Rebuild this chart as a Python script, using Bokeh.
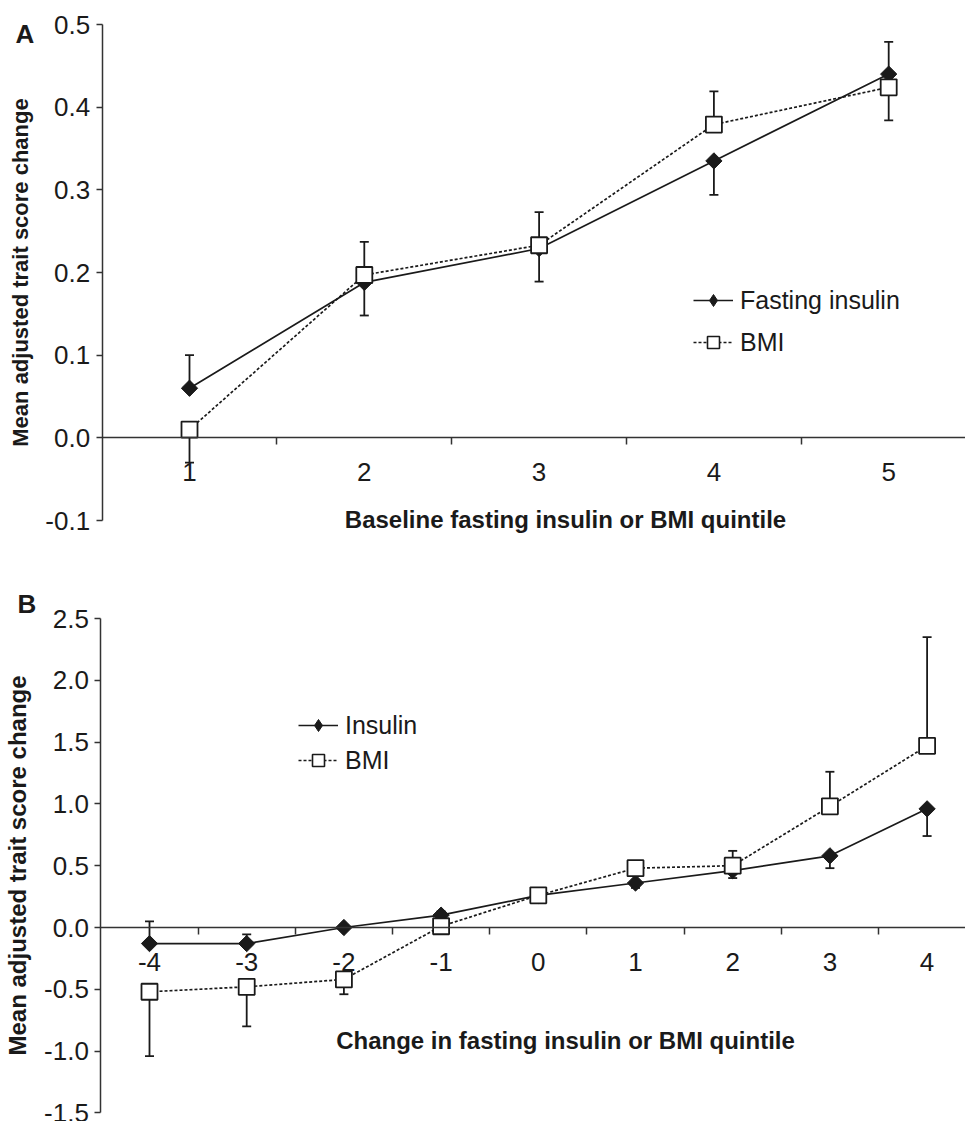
import numpy as np
from bokeh.plotting import figure
from bokeh.models import (Range1d, LinearAxis, FixedTicker, PrintfTickFormatter,
                          Legend, LegendItem, Label)
from bokeh.layouts import column
from bokeh.embed import file_html
from bokeh.resources import INLINE

FONT = "Liberation Sans"
INK = "#1a1a1a"
AXC = "#333333"

# ---------------- data: panel A ----------------
quintiles_a = [1, 2, 3, 4, 5]
x_labels_a = ["1", "2", "3", "4", "5"]
insulin_a = [0.060, 0.188, 0.229, 0.335, 0.440]
insulin_a_err = [0.040, 0.040, 0.040, 0.041, 0.039]
bmi_a = [0.010, 0.197, 0.233, 0.379, 0.424]
bmi_a_err = [0.040, 0.040, 0.040, 0.040, 0.040]
y_ticks_a = [-0.1, 0.0, 0.1, 0.2, 0.3, 0.4, 0.5]

# ---------------- data: panel B ----------------
change_b = [-4, -3, -2, -1, 0, 1, 2, 3, 4]
x_labels_b = ["-4", "-3", "-2", "-1", "0", "1", "2", "3", "4"]
insulin_b = [-0.13, -0.13, 0.00, 0.10, 0.26, 0.36, 0.46, 0.58, 0.96]
insulin_b_err = [0.18, 0.075, 0.02, 0.03, 0.03, 0.04, 0.06, 0.10, 0.22]
bmi_b = [-0.52, -0.48, -0.42, 0.01, 0.26, 0.48, 0.50, 0.98, 1.47]
bmi_b_err = [0.52, 0.32, 0.12, 0.03, 0.03, 0.04, 0.12, 0.28, 0.88]
y_ticks_b = [-1.5, -1.0, -0.5, 0.0, 0.5, 1.0, 1.5, 2.0, 2.5]

W = 965


def make_panel(cats, xlabels, ins, ins_err, bmi, bmi_err, yticks, height,
               cal, ylab_size, letter, letter_px, title, title_px,
               ins_name, leg_loc, leg_spacing):
    # cal = (px of first category, px per x unit, py of top y tick, px per y unit)
    cx0, pxu, ty0, pyu = cal
    xs = cats[0] - cx0 / pxu
    xe = cats[0] + (W - cx0) / pxu
    ye = yticks[-1] + ty0 / pyu
    ys = ye - height / pyu

    def dx(px):
        return xs + px / pxu

    def dy(py):
        return ye - py / pyu

    p = figure(width=W, height=height, x_range=Range1d(xs, xe), y_range=Range1d(ys, ye),
               output_backend="svg", toolbar_location=None,
               x_axis_location=None, y_axis_location=None, min_border=0)
    p.outline_line_color = None
    p.grid.visible = False
    p.background_fill_color = "white"
    p.border_fill_color = "white"

    x_left = cats[0] - 0.5
    # y axis at the left edge of the first category slot
    ya = LinearAxis(fixed_location=x_left, bounds=(yticks[0], yticks[-1]),
                    ticker=FixedTicker(ticks=yticks),
                    formatter=PrintfTickFormatter(format="%.1f"))
    ya.major_tick_out = 6
    ya.major_tick_in = 0
    ya.minor_tick_out = 0
    ya.minor_tick_in = 0
    ya.axis_line_width = 1.5
    ya.axis_line_color = AXC
    ya.major_tick_line_width = 1.5
    ya.major_tick_line_color = AXC
    ya.major_label_text_font = FONT
    ya.major_label_text_font_size = "26px"
    ya.major_label_text_color = INK
    ya.major_label_standoff = 6
    ya.axis_label = "Mean adjusted trait score change"
    ya.axis_label_text_font = FONT
    ya.axis_label_text_font_style = "bold"
    ya.axis_label_text_font_size = ylab_size
    ya.axis_label_text_color = INK
    ya.axis_label_standoff = 10
    p.add_layout(ya, "left")

    # x axis crossing at y = 0, ticks on slot boundaries
    bounds = [c + 0.5 for c in cats[:-1]]
    xa = LinearAxis(fixed_location=0, bounds=(x_left, xe),
                    ticker=FixedTicker(ticks=cats, minor_ticks=bounds),
                    major_label_overrides={c: l for c, l in zip(cats, xlabels)})
    xa.major_tick_out = 0
    xa.major_tick_in = 0
    xa.minor_tick_out = 7
    xa.minor_tick_in = 0
    xa.minor_tick_line_width = 1.5
    xa.minor_tick_line_color = AXC
    xa.axis_line_width = 1.5
    xa.axis_line_color = AXC
    xa.major_label_text_font = FONT
    xa.major_label_text_font_size = "26px"
    xa.major_label_text_color = INK
    xa.major_label_standoff = 18
    p.add_layout(xa, "below")

    # series lines
    l_ins = p.line(cats, ins, line_color=INK, line_width=1.7)
    l_bmi = p.line(cats, bmi, line_color=INK, line_width=1.7, line_dash="3 2")

    # one-sided error bars: upward for the higher series, downward for the lower
    def bars(y, err, other, higher_or_equal):
        ends = []
        for yi, ei, oi in zip(y, err, other):
            up = yi >= oi if higher_or_equal else yi > oi
            ends.append(yi + ei if up else yi - ei)
        p.segment(x0=cats, y0=y, x1=cats, y1=ends, line_color=INK, line_width=1.8)
        p.scatter(cats, ends, marker="dash", size=9, line_color=INK, line_width=1.8)

    bars(ins, ins_err, bmi, True)
    bars(bmi, bmi_err, ins, False)

    p.scatter(cats, ins, marker="square", angle=np.pi / 4, size=11.5,
              fill_color=INK, line_color=INK, line_width=1)
    p.scatter(cats, bmi, marker="square", size=16, fill_color="white",
              line_color=INK, line_width=1.8)

    # legend-only marker renderers (no visible points)
    nan = [float("nan")]
    k_ins = p.scatter(nan, nan, marker="diamond", size=12, fill_color=INK,
                      line_color=INK, line_width=1)
    k_bmi = p.scatter(nan, nan, marker="square", size=12, fill_color="white",
                      line_color=INK, line_width=1.6)

    legend = Legend(items=[LegendItem(label=ins_name, renderers=[l_ins, k_ins]),
                           LegendItem(label="BMI", renderers=[l_bmi, k_bmi])],
                    location=leg_loc, padding=0, margin=0, spacing=leg_spacing,
                    glyph_width=40, glyph_height=30, label_height=30,
                    label_standoff=7, border_line_color=None,
                    background_fill_alpha=0)
    legend.label_text_font = FONT
    legend.label_text_font_size = "25px"
    legend.label_text_color = INK
    p.add_layout(legend)

    p.add_layout(Label(x=dx(letter_px[0]), y=dy(letter_px[1]), text=letter,
                       text_font=FONT, text_font_style="bold",
                       text_font_size="26px", text_color=INK,
                       text_align="left", text_baseline="middle"))
    p.add_layout(Label(x=dx(title_px[0]), y=dy(title_px[1]), text=title,
                       text_font=FONT, text_font_style="bold",
                       text_font_size="24px", text_color=INK,
                       text_align="center", text_baseline="middle"))
    return p


H_A = 560
H_B = 1121 - H_A

pa = make_panel(quintiles_a, x_labels_a, insulin_a, insulin_a_err, bmi_a, bmi_a_err,
                y_ticks_a, H_A, (189, 174.8, 24, 826.7), "22px",
                "A", (15, 33), "Baseline fasting insulin or BMI quintile", (565, 519),
                "Fasting insulin", (693, H_A - 357), 12)

pb = make_panel(change_b, x_labels_b, insulin_b, insulin_b_err, bmi_b, bmi_b_err,
                y_ticks_b, H_B, (149, 97.2, 618 - H_A, 123.6), "24px",
                "B", (17, 603 - H_A), "Change in fasting insulin or BMI quintile",
                (565, 1040 - H_A), "Insulin", (298, H_B - (775 - H_A)), 5)

layout = column(pa, pb, spacing=0)
open("out.html", "w").write(file_html(layout, INLINE))
